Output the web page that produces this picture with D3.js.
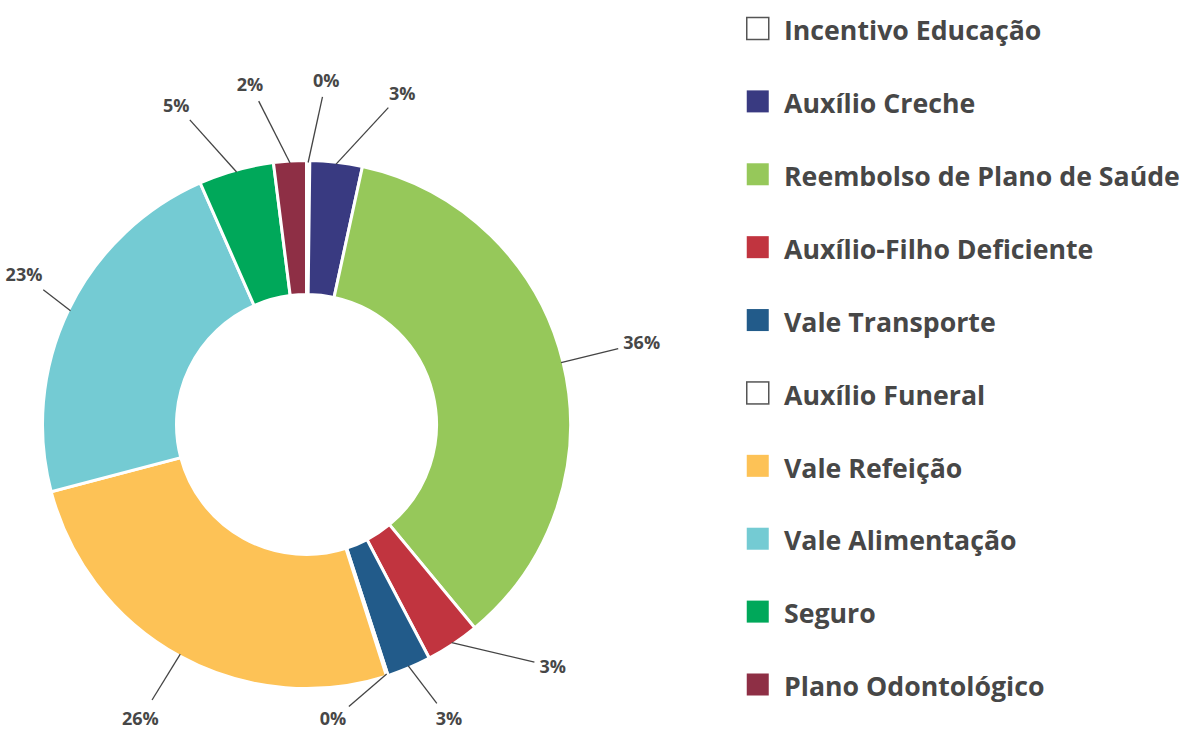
<!DOCTYPE html>
<html>
<head>
<meta charset="utf-8">
<script src="https://cdn.jsdelivr.net/npm/d3@7"></script>
<style>
  body { margin: 0; background: #fff; }
  svg { display: block; font-family: "Open Sans", sans-serif; }
</style>
</head>
<body>
<div id="chart"></div>
<script>
// categories, clockwise from the top
var categories = ["Incentivo Educação", "Auxílio Creche", "Reembolso de Plano de Saúde",
  "Auxílio-Filho Deficiente", "Vale Transporte", "Auxílio Funeral", "Vale Refeição",
  "Vale Alimentação", "Seguro", "Plano Odontológico"];
var values = [0.2, 3.2, 35.6, 3.3, 2.7, 0.1, 25.8, 22.5, 4.6, 2.0];
var colors = ["#ffffff", "#393a81", "#96c85a", "#c1343f", "#225b8a", "#ffffff",
  "#fdc256", "#74cbd3", "#00a85a", "#8e2f45"];

var width = 1181, height = 729;
var cx = 306.5, cy = 424.5;
var outerR = 264, innerR = 130, labelR = 345;
var textColor = "#474747";

var svg = d3.select("#chart").append("svg")
    .attr("width", width)
    .attr("height", height);

var data = categories.map(function(c, i) {
  return {name: c, value: values[i], color: colors[i]};
});
var total = d3.sum(values);

var pie = d3.pie()
    .sort(null)
    .value(function(d) { return d.value; });

var arc = d3.arc()
    .innerRadius(innerR)
    .outerRadius(outerR);

var arcs = pie(data);

var g = svg.append("g")
    .attr("transform", "translate(" + cx + "," + cy + ")");

g.selectAll("path.slice")
    .data(arcs)
    .enter()
    .append("path")
    .attr("class", "slice")
    .attr("d", arc)
    .attr("fill", function(d) { return d.data.color; })
    .attr("stroke", "#fff")
    .attr("stroke-width", 3);

// labels: start at the mid angle, then spread neighbours apart
function polar(r, a) { return [r * Math.sin(a), -r * Math.cos(a)]; }

var labels = arcs.map(function(d) {
  var mid = (d.startAngle + d.endAngle) / 2;
  var txt = Math.round(d.data.value / total * 100) + "%";
  return {mid: mid, angle: mid, text: txt, w: txt.length * 11, h: 18};
});

function place(l) {
  var p = polar(labelR, l.angle);
  l.x = Math.max(-cx + 24, Math.min(width - cx, p[0]));
  l.y = Math.max(-cy + 80, Math.min(height - cy - 10, p[1]));
}

function tooClose(a, b) {
  var dx = a.x - b.x, dy = a.y - b.y;
  // labels squeezed against the bottom edge need more room
  var minD = (a.y > 200 && b.y > 200) ? 115 : 76;
  return Math.sqrt(dx * dx + dy * dy) < minD;
}

labels.forEach(place);
var n = labels.length;
for (var it = 0; it < 2000; it++) {
  var moved = false;
  for (var k = 0; k < n; k++) {
    for (var s = 1; s <= 2; s++) {
      var a = labels[k], b = labels[(k + s) % n];
      if (tooClose(a, b)) {
        a.angle -= 0.003;
        b.angle += 0.003;
        place(a); place(b);
        moved = true;
      }
    }
  }
  if (!moved) break;
}

var lab = g.selectAll("g.label")
    .data(labels)
    .enter()
    .append("g")
    .attr("class", "label");

function lineEnd(d) {
  var s = polar(outerR, d.mid), dx = d.x - s[0], dy = d.y - s[1];
  var len = Math.sqrt(dx * dx + dy * dy);
  var stop = 6 + Math.abs(dx / len) * d.w / 2 + Math.abs(dy / len) * d.h / 2;
  return [d.x - dx / len * stop, d.y - dy / len * stop];
}

lab.append("line")
    .attr("x1", function(d) { return polar(outerR - 2, d.mid)[0]; })
    .attr("y1", function(d) { return polar(outerR - 2, d.mid)[1]; })
    .attr("x2", function(d) { return lineEnd(d)[0]; })
    .attr("y2", function(d) { return lineEnd(d)[1]; })
    .attr("stroke", "#444")
    .attr("stroke-width", 1.3);

lab.append("text")
    .attr("x", function(d) { return d.x; })
    .attr("y", function(d) { return d.y; })
    .attr("dy", "0.36em")
    .attr("text-anchor", "middle")
    .attr("font-size", 18)
    .attr("font-weight", 700)
    .attr("fill", textColor)
    .text(function(d) { return d.text; });

// legend
var legendY = d3.scalePoint()
    .domain(categories)
    .range([29, 685]);

var legend = svg.selectAll("g.legend")
    .data(data)
    .enter()
    .append("g")
    .attr("class", "legend")
    .attr("transform", function(d) { return "translate(746," + legendY(d.name) + ")"; });

legend.append("rect")
    .attr("x", 0.75)
    .attr("y", -11.5)
    .attr("width", 22)
    .attr("height", 22)
    .attr("fill", function(d) { return d.color; })
    .attr("stroke", function(d) { return d.color == "#ffffff" ? "#555" : "none"; })
    .attr("stroke-width", 1.5);

legend.append("text")
    .attr("x", 38)
    .attr("y", 0)
    .attr("dy", "0.42em")
    .attr("font-size", 26.7)
    .attr("font-weight", 700)
    .attr("fill", textColor)
    .text(function(d) { return d.name; });
</script>
</body>
</html>
